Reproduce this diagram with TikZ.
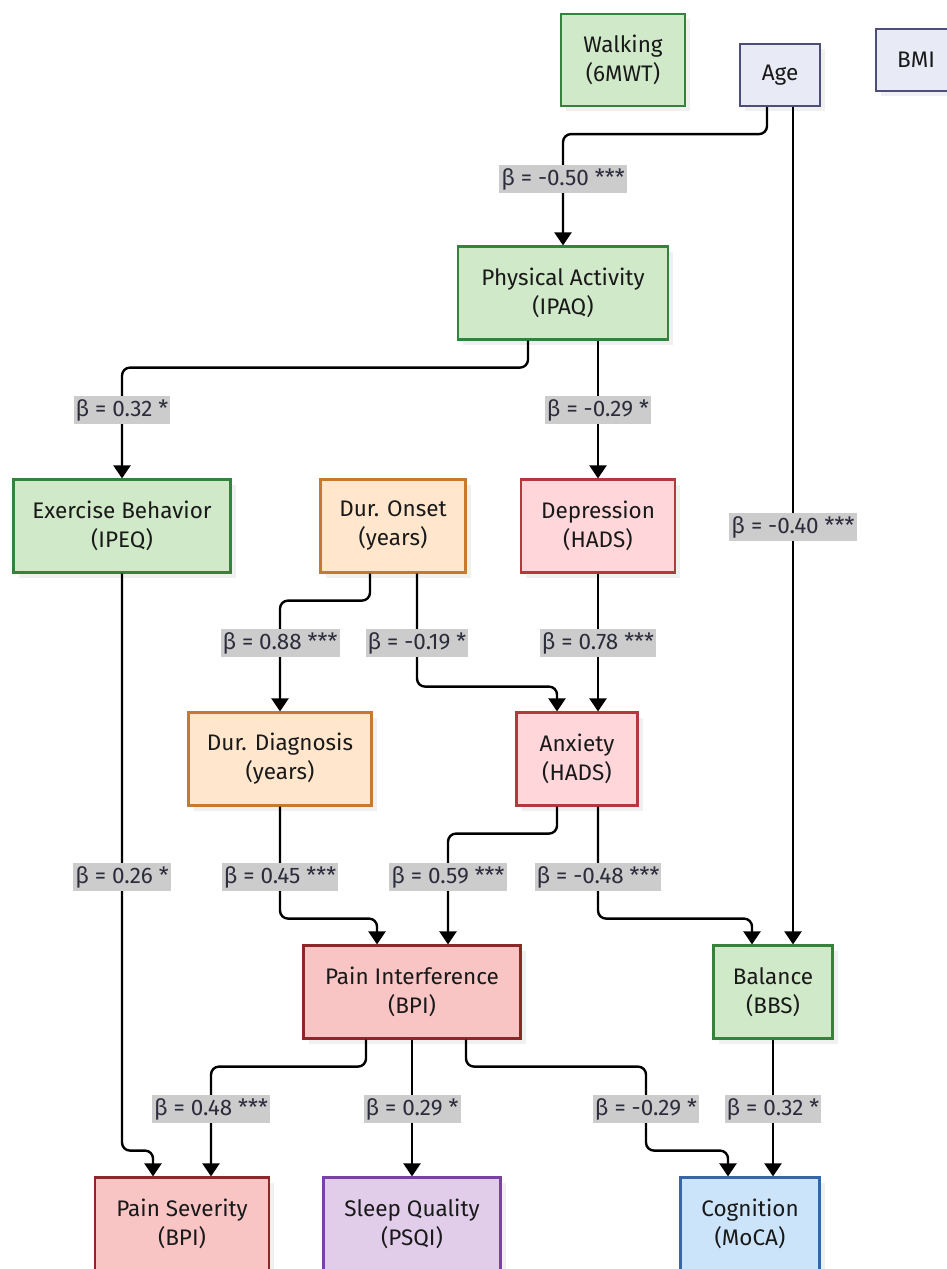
\documentclass[tikz,border=0pt]{standalone}
\usepackage{fontspec}
\setmainfont{Fira Sans}
\usetikzlibrary{arrows.meta, shadows}
\definecolor{walkGreen}{RGB}{208, 233, 200}
\definecolor{walkGreenDark}{RGB}{52, 130, 60}
\definecolor{slateFill}{RGB}{232, 234, 246}
\definecolor{slateDark}{RGB}{78, 78, 122}
\definecolor{onsetFill}{RGB}{255, 230, 204}
\definecolor{onsetDark}{RGB}{196, 122, 50}
\definecolor{moodFill}{RGB}{255, 214, 218}
\definecolor{moodDark}{RGB}{178, 58, 62}
\definecolor{painFill}{RGB}{248, 196, 196}
\definecolor{painDark}{RGB}{140, 40, 42}
\definecolor{sleepFill}{RGB}{225, 205, 234}
\definecolor{sleepDark}{RGB}{120, 64, 168}
\definecolor{cogFill}{RGB}{204, 228, 250}
\definecolor{cogDark}{RGB}{58, 102, 168}
\definecolor{labelGray}{RGB}{204, 204, 204}
\definecolor{labelText}{RGB}{44, 44, 60}

\begin{document}
\begin{tikzpicture}[
    x=1pt, y=-1pt,
    var/.style={
        rectangle,
        draw,
        line width=2.2pt,
        minimum height=93pt,
        align=center,
        font=\fontsize{22.5}{29}\selectfont,
        text=black!90,
        general shadow={fill=black!6, shadow xshift=5pt, shadow yshift=-5pt}
    },
    green/.style={var, fill=walkGreen, draw=walkGreenDark},
    slate/.style={var, fill=slateFill, draw=slateDark, minimum height=62pt},
    onset/.style={var, fill=onsetFill, draw=onsetDark},
    mood/.style={var, fill=moodFill, draw=moodDark},
    pain/.style={var, fill=painFill, draw=painDark},
    sleepbox/.style={var, fill=sleepFill, draw=sleepDark},
    cogbox/.style={var, fill=cogFill, draw=cogDark},
    link/.style={
        line width=2.4pt,
        rounded corners=8pt,
        -{Triangle[width=17pt, length=13pt]}
    },
    beta/.style={
        rectangle,
        fill=labelGray,
        text=labelText,
        inner xsep=2pt,
        inner ysep=0pt,
        minimum height=28pt,
        font=\fontsize{22.5}{24}\selectfont
    }
]

\path[use as bounding box, clip] (0,0) rectangle (947,1269);

% Top row
\node[green, minimum width=124pt, minimum height=92pt] (walking) at (623, 60) {Walking\\(6MWT)};
\node[slate, minimum width=80pt] (age) at (780, 75) {Age};
\node[slate, minimum width=80pt] (bmi) at (916, 60) {BMI};

% Activity and mood
\node[green, minimum width=210pt] (pa) at (563, 293) {Physical Activity\\(IPAQ)};
\node[green, minimum width=217pt] (exercise) at (122, 526) {Exercise Behavior\\(IPEQ)};
\node[onset, minimum width=145pt] (onset) at (393, 526) {Dur. Onset\\(years)};
\node[mood, minimum width=154pt] (depression) at (598, 526) {Depression\\(HADS)};
\node[onset, minimum width=183pt] (diagnosis) at (280, 759) {Dur. Diagnosis\\(years)};
\node[mood, minimum width=121pt] (anxiety) at (577, 759) {Anxiety\\(HADS)};

% Outcomes
\node[pain, minimum width=217pt] (interference) at (412, 992) {Pain Interference\\(BPI)};
\node[green, minimum width=119pt] (balance) at (773, 992) {Balance\\(BBS)};
\node[pain, minimum width=174pt] (severity) at (182, 1224) {Pain Severity\\(BPI)};
\node[sleepbox, minimum width=177pt] (sleep) at (412, 1224) {Sleep Quality\\(PSQI)};
\node[cogbox, minimum width=139pt] (cognition) at (750, 1224) {Cognition\\(MoCA)};

% Paths
\draw[link] ([xshift=-13pt]age.south) -- ++(0,27) -| (pa.north);
\draw[link] ([xshift=13pt]age.south) -- ([xshift=20pt]balance.north);
\draw[link] ([xshift=-35pt]pa.south) -- ++(0,27) -| (exercise.north);
\draw[link] ([xshift=35pt]pa.south) -- (depression.north);
\draw[link] ([xshift=-23pt]onset.south) -- ++(0,27) -| (diagnosis.north);
\draw[link] ([xshift=24pt]onset.south) -- ++(0,113) -| ([xshift=-20pt]anxiety.north);
\draw[link] (depression.south) -- ([xshift=21pt]anxiety.north);
\draw[link] (exercise.south) -- ++(0,577) -| ([xshift=-29pt]severity.north);
\draw[link] (diagnosis.south) -- ++(0,112) -| ([xshift=-35pt]interference.north);
\draw[link] ([xshift=-20pt]anxiety.south) -- ++(0,27) -| ([xshift=36pt]interference.north);
\draw[link] ([xshift=21pt]anxiety.south) -- ++(0,112) -| ([xshift=-21pt]balance.north);
\draw[link] ([xshift=-46pt]interference.south) -- ++(0,27) -| ([xshift=29pt]severity.north);
\draw[link] (interference.south) -- (sleep.north);
\draw[link] ([xshift=54pt]interference.south) -- ++(0,27) -- ++(180,0) -- ++(0,84) -| ([xshift=-22pt]cognition.north);
\draw[link] (balance.south) -- ([xshift=23pt]cognition.north);

% Coefficients
\node[beta] (b-age-pa) at (563, 179) {β = -0.50 ***};
\node[beta] (b-age-bal) at (793, 527) {β = -0.40 ***};
\node[beta] (b-pa-ex) at (122, 410) {β = 0.32 *};
\node[beta] (b-pa-dep) at (598, 410) {β = -0.29 *};
\node[beta] (b-on-diag) at (280, 643) {β = 0.88 ***};
\node[beta] (b-on-anx) at (417, 643) {β = -0.19 *};
\node[beta] (b-dep-anx) at (598, 643) {β = 0.78 ***};
\node[beta] (b-ex-sev) at (122, 877) {β = 0.26 *};
\node[beta] (b-diag-pi) at (280, 877) {β = 0.45 ***};
\node[beta] (b-anx-pi) at (448, 877) {β = 0.59 ***};
\node[beta] (b-anx-bal) at (598, 877) {β = -0.48 ***};
\node[beta] (b-pi-sev) at (211, 1109) {β = 0.48 ***};
\node[beta] (b-pi-sleep) at (412, 1109) {β = 0.29 *};
\node[beta] (b-pi-cog) at (646, 1109) {β = -0.29 *};
\node[beta] (b-bal-cog) at (773, 1109) {β = 0.32 *};

\end{tikzpicture}
\end{document}
